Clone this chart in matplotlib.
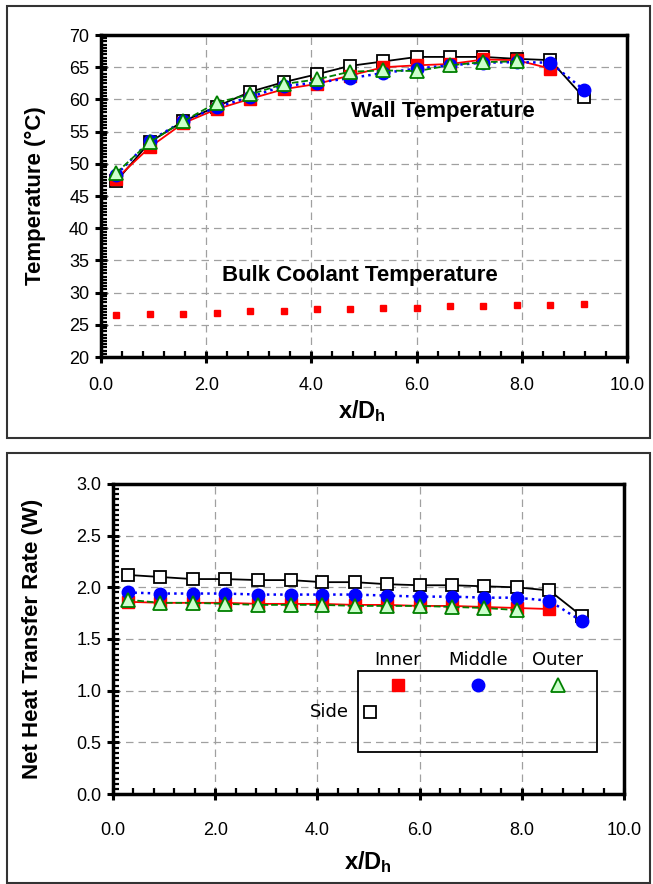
import matplotlib
matplotlib.use("Agg")
import matplotlib.pyplot as plt
from matplotlib.patches import Rectangle
from matplotlib.ticker import MultipleLocator, FormatStrFormatter

plt.rcParams['font.family'] = ['Liberation Sans', 'DejaVu Sans']
plt.rcParams['mathtext.fontset'] = 'custom'
plt.rcParams['mathtext.rm'] = 'Liberation Sans'
plt.rcParams['mathtext.bf'] = 'Liberation Sans:bold'

# x/Dh positions of the measurement stations
x_pos = [0.29, 0.93, 1.56, 2.20, 2.84, 3.48, 4.10, 4.73, 5.37, 6.01, 6.64, 7.27, 7.90, 8.54, 9.18]

# wall temperature (°C)
t_side = [47.3, 53.4, 56.6, 58.9, 61.2, 62.7, 63.9, 65.2, 65.9, 66.6, 66.6, 66.6, 66.3, 66.1, 60.3]
t_inner = [47.7, 52.6, 56.3, 58.5, 60.1, 61.6, 62.4, 63.7, 65.0, 65.3, 65.5, 66.2, 66.1, 64.8]
t_middle = [48.3, 53.6, 56.6, 58.8, 60.4, 62.1, 62.6, 63.3, 64.1, 64.8, 65.3, 65.7, 65.8, 65.7, 61.5]
t_outer = [48.6, 53.4, 56.6, 59.5, 60.8, 62.4, 63.1, 64.3, 64.5, 64.4, 65.3, 65.8, 65.9]
t_bulk = [26.5, 26.7, 26.7, 26.9, 27.2, 27.2, 27.4, 27.4, 27.7, 27.7, 27.9, 27.9, 28.1, 28.1, 28.3]

# net heat transfer rate (W)
q_side = [2.12, 2.10, 2.08, 2.08, 2.07, 2.07, 2.05, 2.05, 2.03, 2.02, 2.02, 2.01, 2.00, 1.97, 1.72]
q_inner = [1.86, 1.85, 1.85, 1.85, 1.84, 1.84, 1.84, 1.83, 1.83, 1.82, 1.82, 1.81, 1.80, 1.79]
q_middle = [1.95, 1.94, 1.94, 1.94, 1.93, 1.93, 1.93, 1.93, 1.92, 1.91, 1.91, 1.90, 1.90, 1.87, 1.67]
q_outer = [1.88, 1.85, 1.85, 1.84, 1.83, 1.83, 1.83, 1.82, 1.82, 1.82, 1.81, 1.80, 1.78]

legend_names = ['Inner', 'Middle', 'Outer']

styles = {
    'side': dict(color='k', ls='-', marker='s', mfc='white', mec='k', ms=8.5, mew=1.3),
    'inner': dict(color='red', ls='-', marker='s', mfc='red', mec='red', ms=8.5, mew=1.0),
    'middle': dict(color='blue', ls=':', marker='o', mfc='blue', mec='blue', ms=9, mew=1.0),
    'outer': dict(color='green', ls='--', marker='^', mfc='#ccffcc', mec='green', ms=9.5, mew=1.3),
}

fig = plt.figure(figsize=(6.53, 8.84), dpi=100)

# outer frames around the two charts
for y0, h in [(0.5045, 0.4887), (0.0011, 0.4864)]:
    fig.patches.append(Rectangle((0.0107, y0), 0.9847, h, transform=fig.transFigure,
                                 fill=False, edgecolor='#333333', lw=1.5))


def style_axes(axes, ymajor, yminor, fmt, xpad):
    axes.grid(True, which='major', color='#a0a0a0', ls=(0, (6, 4)), lw=0.9)
    axes.set_axisbelow(True)
    for s in axes.spines.values():
        s.set_linewidth(2.5)
    axes.xaxis.set_major_locator(MultipleLocator(2.0))
    axes.xaxis.set_minor_locator(MultipleLocator(0.4))
    axes.xaxis.set_major_formatter(FormatStrFormatter('%.1f'))
    axes.yaxis.set_major_locator(MultipleLocator(ymajor))
    axes.yaxis.set_minor_locator(MultipleLocator(yminor))
    axes.yaxis.set_major_formatter(FormatStrFormatter(fmt))
    axes.tick_params(which='major', direction='inout', length=9, width=2.2, labelsize=13,
                     top=False, right=False, pad=4)
    axes.tick_params(axis='x', which='major', pad=xpad)
    axes.tick_params(which='minor', direction='in', length=4, width=1.6, top=False, right=False)


# ---- wall / bulk temperature
ax1 = fig.add_axes([0.1547, 0.5960, 0.8055, 0.3644])
ax1.plot(x_pos, t_side, lw=1.3, **styles['side'])
ax1.plot(x_pos[:len(t_inner)], t_inner, lw=1.3, **styles['inner'])
ax1.plot(x_pos, t_middle, lw=1.8, **styles['middle'])
ax1.plot(x_pos[:len(t_outer)], t_outer, lw=1.3, **styles['outer'])
ax1.plot(x_pos, t_bulk, ls='none', marker='s', ms=4.5, color='red')
ax1.set_xlim(0, 10)
ax1.set_ylim(20, 70)
style_axes(ax1, 5, 0.5, '%d', 10)
ax1.text(6.5, 58.2, 'Wall Temperature', fontsize=16, fontweight='bold', ha='center', va='center')
ax1.text(4.92, 32.7, 'Bulk Coolant Temperature', fontsize=16, fontweight='bold', ha='center', va='center')
fig.text(35 / 653, 0.7782, 'Temperature (°C)', rotation=90, fontsize=16, fontweight='bold',
         ha='center', va='center')
fig.text(0.5547, 1 - 411 / 884, r'$\mathbf{x/D_h}$', fontsize=17, ha='center', va='center')

# ---- net heat transfer rate
ax2 = fig.add_axes([0.1730, 0.1018, 0.7825, 0.3507])
ax2.plot(x_pos, q_side, lw=1.3, **styles['side'])
ax2.plot(x_pos[:len(q_inner)], q_inner, lw=1.3, **styles['inner'])
ax2.plot(x_pos, q_middle, lw=1.8, **styles['middle'])
ax2.plot(x_pos[:len(q_outer)], q_outer, lw=1.3, **styles['outer'])
ax2.set_xlim(0, 10)
ax2.set_ylim(0, 3.0)
style_axes(ax2, 0.5, 0.05, '%.1f', 16)
fig.text(33 / 653, 0.2772, 'Net Heat Transfer Rate (W)', rotation=90, fontsize=16, fontweight='bold',
         ha='center', va='center')
fig.text(0.5643, 1 - 862 / 884, r'$\mathbf{x/D_h}$', fontsize=17, ha='center', va='center')

# hand-made legend box
ax2.add_patch(Rectangle((0.479, 0.135), 0.468, 0.262, transform=ax2.transAxes,
                        fill=False, edgecolor='k', lw=1.3, zorder=5))
leg_x = [0.557, 0.714, 0.870]
for name, key, lx in zip(legend_names, ['inner', 'middle', 'outer'], leg_x):
    st = dict(styles[key])
    st['ls'] = 'none'
    ax2.plot([lx], [0.352], transform=ax2.transAxes, clip_on=False, zorder=6, **st)
    ax2.text(lx, 0.432, name, transform=ax2.transAxes, fontsize=13, family='DejaVu Sans',
             ha='center', va='center')
st = dict(styles['side'])
st['ls'] = 'none'
ax2.plot([0.504], [0.265], transform=ax2.transAxes, clip_on=False, zorder=6, **st)
ax2.text(0.462, 0.265, 'Side', transform=ax2.transAxes, fontsize=13, family='DejaVu Sans',
         ha='right', va='center')

fig.savefig('out.png', dpi=100)
